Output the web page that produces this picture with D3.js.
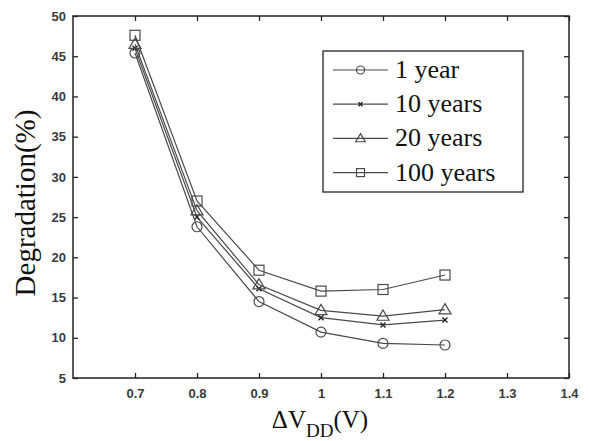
<!DOCTYPE html>
<html>
<head>
<meta charset="utf-8">
<script src="https://cdn.jsdelivr.net/npm/d3@7"></script>
<style>
  html, body { margin: 0; padding: 0; background: #fff; }
  svg { display: block; }
</style>
</head>
<body>
<svg id="chart" width="589" height="441"></svg>
<script>
// Supply-voltage shift vs. degradation for several lifetimes
const vdd = [0.7, 0.8, 0.9, 1.0, 1.1, 1.2];
const year1   = [45.4, 23.8, 14.5, 10.7, 9.3, 9.1];
const years10 = [46.0, 25.0, 16.1, 12.5, 11.6, 12.2];
const years20 = [46.5, 25.8, 16.6, 13.4, 12.7, 13.5];
const years100 = [47.6, 27.0, 18.4, 15.8, 16.0, 17.8];
const seriesNames = ["1 year", "10 years", "20 years", "100 years"];
const seriesMarkers = ["circle", "cross", "triangle", "square"];
const xTicks = [0.7, 0.8, 0.9, 1.0, 1.1, 1.2, 1.3, 1.4];
const yTicks = [5, 10, 15, 20, 25, 30, 35, 40, 45, 50];

const series = [year1, years10, years20, years100].map((vals, i) => ({
  name: seriesNames[i], marker: seriesMarkers[i],
  points: vals.map((v, j) => [vdd[j], v])
}));

const svg = d3.select("#chart");
const pLeft = 73, pRight = 569, pTop = 16, pBottom = 378;
const x = d3.scaleLinear().domain([0.6, 1.4]).range([pLeft, pRight]);
const y = d3.scaleLinear().domain([5, 50]).range([pBottom, pTop]);

const lineColor = "#4a4a4a";
const tickFont = "Arial, 'Liberation Sans', sans-serif";
const serif = "'Liberation Serif', 'Times New Roman', serif";

// axes with inward ticks on all four sides
const fmtX = d => d === 1 ? "1" : String(d);
const axB = svg.append("g").attr("transform", `translate(0,${pBottom})`)
  .call(d3.axisBottom(x).tickValues(xTicks).tickSize(-5).tickPadding(11).tickFormat(fmtX));
const axT = svg.append("g").attr("transform", `translate(0,${pTop})`)
  .call(d3.axisTop(x).tickValues(xTicks).tickSize(-5).tickFormat(""));
const axL = svg.append("g").attr("transform", `translate(${pLeft},0)`)
  .call(d3.axisLeft(y).tickValues(yTicks).tickSize(-5).tickPadding(7));
const axR = svg.append("g").attr("transform", `translate(${pRight},0)`)
  .call(d3.axisRight(y).tickValues(yTicks).tickSize(-5).tickFormat(""));
[axB, axT, axL, axR].forEach(g => {
  g.select(".domain").remove();
  g.selectAll(".tick line").attr("stroke", "#222").attr("stroke-width", 1.3);
  g.selectAll(".tick text").attr("fill", "#3a3a3a").style("font-family", tickFont)
    .style("font-size", "13px").style("font-weight", "bold");
});

// frame
svg.append("rect").attr("x", pLeft).attr("y", pTop)
  .attr("width", pRight - pLeft).attr("height", pBottom - pTop)
  .attr("fill", "none").attr("stroke", "#222").attr("stroke-width", 1.5);

// markers
function drawMarker(g, type, cx, cy, k = 1) {
  if (type === "circle") {
    g.append("circle").attr("cx", cx).attr("cy", cy).attr("r", 5 * k)
      .attr("fill", "none").attr("stroke", lineColor).attr("stroke-width", 1.2);
  } else if (type === "cross") {
    const s = 2.5 * k;
    g.append("path").attr("d", `M${cx - s},${cy - s}L${cx + s},${cy + s}M${cx - s},${cy + s}L${cx + s},${cy - s}`)
      .attr("stroke", "#222").attr("stroke-width", 1.4);
  } else if (type === "triangle") {
    const s = 6 * k;
    g.append("path").attr("d", `M${cx},${cy - s}L${cx + s},${cy + s * 0.7}L${cx - s},${cy + s * 0.7}Z`)
      .attr("fill", "none").attr("stroke", lineColor).attr("stroke-width", 1.2);
  } else if (type === "square") {
    const s = 5 * k;
    g.append("rect").attr("x", cx - s).attr("y", cy - s).attr("width", 2 * s).attr("height", 2 * s)
      .attr("fill", "none").attr("stroke", lineColor).attr("stroke-width", 1.2);
  }
}

const line = d3.line().x(d => x(d[0])).y(d => y(d[1]));
series.forEach(s => {
  const g = svg.append("g");
  g.append("path").attr("d", line(s.points)).attr("fill", "none")
    .attr("stroke", lineColor).attr("stroke-width", 1.2);
  s.points.forEach(p => drawMarker(g, s.marker, x(p[0]), y(p[1])));
});

// legend
const lg = svg.append("g");
lg.append("rect").attr("x", 323).attr("y", 51).attr("width", 200).attr("height", 141)
  .attr("fill", "#fff").attr("stroke", "#222").attr("stroke-width", 1.3);
series.forEach((s, i) => {
  const cy = 70 + i * 34.2;
  lg.append("line").attr("x1", 333).attr("x2", 388).attr("y1", cy).attr("y2", cy)
    .attr("stroke", lineColor).attr("stroke-width", 1.2);
  drawMarker(lg, s.marker, 360.5, cy, 0.8);
  lg.append("text").attr("x", 395).attr("y", cy + 8).text(s.name)
    .style("font-family", serif).style("font-size", "26px").attr("fill", "#111");
});

// axis titles
svg.append("text").attr("transform", `translate(35,${(pTop + pBottom) / 2 + 6}) rotate(-90)`)
  .attr("text-anchor", "middle").style("font-family", serif).style("font-size", "29px")
  .attr("fill", "#111").text("Degradation(%)");

const xt = svg.append("text").attr("x", 320).attr("y", 428).attr("text-anchor", "middle")
  .style("font-family", serif).style("font-size", "25px").attr("fill", "#111");
xt.append("tspan").text("ΔV");
xt.append("tspan").attr("dy", 9).style("font-size", "19px").text("DD");
xt.append("tspan").attr("dy", -9).text("(V)");
</script>
</body>
</html>
